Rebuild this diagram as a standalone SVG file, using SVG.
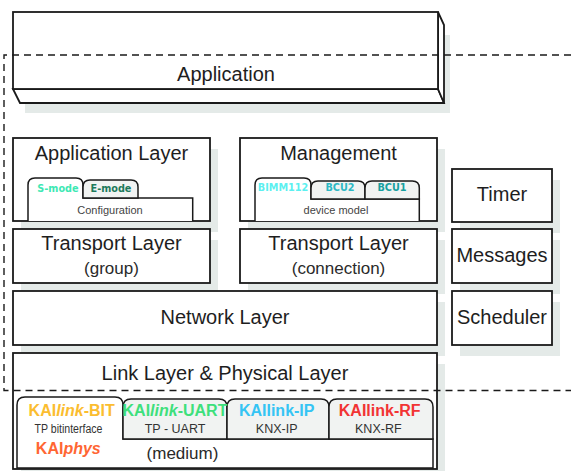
<svg xmlns="http://www.w3.org/2000/svg" width="571" height="471" viewBox="0 0 571 471">
<style>
.box{fill:#fff;stroke:#1a1a1a;stroke-width:1.8}
.sh{fill:#e4eae8}
.big{font-family:"Liberation Sans",Arial,sans-serif;font-size:20px;fill:#1e1e1e;text-anchor:middle}
.mid{font-family:"Liberation Sans",Arial,sans-serif;font-size:17px;fill:#2a2a2a;text-anchor:middle}
.sm{font-family:"Liberation Sans",Arial,sans-serif;font-size:11px;fill:#444;text-anchor:middle}
.lbl{font-family:"Liberation Sans",Arial,sans-serif;font-size:12.5px;fill:#333;text-anchor:middle}
.tab{font-family:"DejaVu Sans",Verdana,sans-serif;font-size:9.7px;font-weight:bold;text-anchor:middle}
.kai{font-family:"Liberation Sans",Arial,sans-serif;font-size:16px;font-weight:bold;text-anchor:middle}
.on{fill:#fff;stroke:#1a1a1a;stroke-width:1.5}
.off{fill:#f1f3f2;stroke:#1a1a1a;stroke-width:1.5}
.dash{fill:none;stroke:#1a1a1a;stroke-width:1.4;stroke-dasharray:7 5}
</style>
<rect width="571" height="471" fill="#fff"/>

<g id="application">
<rect class="sh" x="25" y="35" width="425" height="78"/>
<path class="box" d="M13,89 L20,103 H444 L438,89 Z"/>
<path class="box" d="M438,12 L444,25 V103 L438,89 Z"/>
<rect class="box" x="13" y="12" width="425" height="77"/>
<text class="big" x="226" y="81" font-size="21">Application</text>
</g>

<g id="application-layer">
<rect class="sh" x="21" y="149" width="197" height="83"/>
<rect class="box" x="13" y="138" width="197" height="83"/>
<text class="big" x="111.5" y="160">Application Layer</text>
<path class="on" d="M28,221 V185 Q28,178 35,178 H76 Q83,178 83,185 V198 H192.7 V221"/>
<path class="off" d="M83,198 V187 Q83,180 90,180 H131 Q138,180 138,187 V198 Z"/>
<text class="tab" x="58" y="191.5" fill="#3ee8b4">S-mode</text>
<text class="tab" x="111" y="191.5" fill="#1d7a5b">E-mode</text>
<text class="sm" x="110" y="214">Configuration</text>
</g>

<g id="management">
<rect class="sh" x="248" y="149" width="197" height="83"/>
<rect class="box" x="240" y="138" width="197" height="83"/>
<text class="big" x="338.5" y="160">Management</text>
<path class="on" d="M255,221 V185 Q255,178 262,178 H304 Q311,178 311,185 V199 H419.3 V221"/>
<path class="off" d="M311,199 V188 Q311,181 318,181 H358 Q365,181 365,188 V199 Z"/>
<path class="off" d="M365,199 V188 Q365,181 372,181 H412.3 Q419.3,181 419.3,188 V199 Z"/>
<text class="tab" x="283" y="191" fill="#5cf0f0">BIMM112</text>
<text class="tab" x="340" y="191" fill="#2cb8c4">BCU2</text>
<text class="tab" x="392" y="191" fill="#17a0a0">BCU1</text>
<text class="sm" x="336" y="214">device model</text>
</g>

<g id="timer">
<rect class="sh" x="460" y="180" width="100" height="53"/>
<rect class="box" x="452" y="169" width="100" height="53"/>
<text class="big" x="502" y="201">Timer</text>
</g>

<g id="transport-group">
<rect class="sh" x="21" y="240" width="197" height="54"/>
<rect class="box" x="13" y="229" width="197" height="54"/>
<text class="big" x="111.5" y="249.5">Transport Layer</text>
<text class="mid" x="111.5" y="273.5">(group)</text>
</g>

<g id="transport-connection">
<rect class="sh" x="248" y="240" width="197" height="54"/>
<rect class="box" x="240" y="229" width="197" height="54"/>
<text class="big" x="338.5" y="249.5">Transport Layer</text>
<text class="mid" x="338.5" y="273.5">(connection)</text>
</g>

<g id="messages">
<rect class="sh" x="460" y="240" width="100" height="54"/>
<rect class="box" x="452" y="229" width="100" height="54"/>
<text class="big" x="502" y="262">Messages</text>
</g>

<g id="network-layer">
<rect class="sh" x="21" y="302" width="424" height="54"/>
<rect class="box" x="13" y="291" width="424" height="54"/>
<text class="big" x="225" y="324">Network Layer</text>
</g>

<g id="scheduler">
<rect class="sh" x="460" y="302" width="100" height="54"/>
<rect class="box" x="452" y="291" width="100" height="54"/>
<text class="big" x="502" y="324">Scheduler</text>
</g>

<g id="link-layer">
<rect class="sh" x="21" y="364" width="424" height="116"/>
<rect class="box" x="13" y="353" width="424" height="116"/>
<text class="big" x="225" y="380">Link Layer &amp; Physical Layer</text>
<path class="on" d="M17,468 V405 Q17,397 25,397 H115 Q123,397 123,405 V439 H433 V468 Z"/>
<path class="off" d="M123,439 V407 Q123,399 131,399 H219 Q227,399 227,407 V439 Z"/>
<path class="off" d="M227,439 V407 Q227,399 235,399 H321 Q329,399 329,407 V439 Z"/>
<path class="off" d="M329,439 V407 Q329,399 337,399 H425 Q433,399 433,407 V439 Z"/>
<text class="kai" x="71.7" y="416" fill="#fbbd30" font-size="16.5">KAI<tspan font-style="italic">link</tspan>-BIT</text>
<text class="lbl" x="68.5" y="433" textLength="68" lengthAdjust="spacingAndGlyphs">TP bitinterface</text>
<text class="kai" x="68.3" y="454" font-size="16.4" fill="#ff6633">KAI<tspan font-style="italic">phys</tspan></text>
<text class="kai" x="175" y="416" fill="#3ee07c" font-size="13.8">KAI<tspan font-style="italic">link</tspan>-UART</text>
<text class="lbl" x="175" y="433">TP - UART</text>
<text class="kai" x="276.7" y="416" fill="#35c4f4" font-size="17.5">KAIlink-IP</text>
<text class="lbl" x="276.7" y="433">KNX-IP</text>
<text class="kai" x="379.7" y="416" fill="#f23434" font-size="17.5">KAIlink-RF</text>
<text class="lbl" x="378.3" y="433">KNX-RF</text>
<text class="mid" x="182.5" y="459.3">(medium)</text>
</g>

<g id="connectors">
<path class="dash" d="M571,55 H4 V390.5 H571"/>
</g>
</svg>
